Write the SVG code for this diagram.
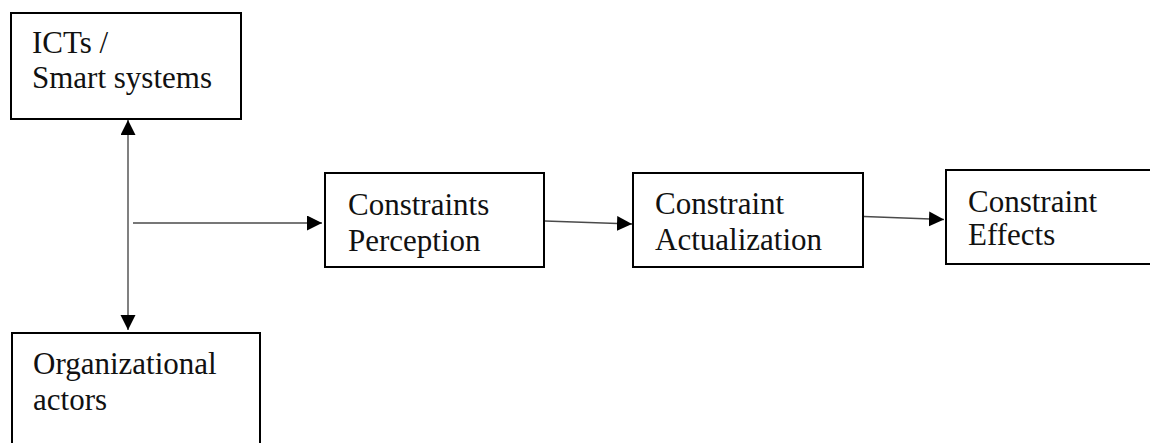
<svg xmlns="http://www.w3.org/2000/svg" width="1150" height="443" viewBox="0 0 1150 443">
  <style>
    .box { fill: #ffffff; stroke: #000000; stroke-width: 2; }
    .label { font-family: "Liberation Serif", "Times New Roman", serif; font-size: 31px; fill: #111111; }
    .link { fill: none; stroke: #4a4a4a; stroke-width: 1.4; }
  </style>
  <defs>
    <marker id="arrow" markerUnits="userSpaceOnUse" markerWidth="16" markerHeight="16" refX="15" refY="7.5" orient="auto-start-reverse" viewBox="0 0 16 16">
      <path d="M0,0 L15,7.5 L0,15 Z" fill="#000000"/>
    </marker>
  </defs>
  <rect width="1150" height="443" fill="#ffffff"/>

  <g id="connectors">
    <line class="link" x1="128" y1="120" x2="128" y2="330" marker-start="url(#arrow)" marker-end="url(#arrow)"/>
    <line class="link" x1="133" y1="223" x2="322" y2="223" marker-end="url(#arrow)"/>
    <line class="link" x1="545" y1="221" x2="632" y2="224" marker-end="url(#arrow)"/>
    <line class="link" x1="864" y1="216.5" x2="944" y2="219.5" marker-end="url(#arrow)"/>
  </g>

  <g id="ict-smart-systems">
    <rect class="box" x="11" y="13" width="230" height="106"/>
    <text class="label" x="32" y="53">ICTs /</text>
    <text class="label" x="32" y="88">Smart systems</text>
  </g>

  <g id="organizational-actors">
    <rect class="box" x="12" y="333" width="248" height="130"/>
    <text class="label" x="33" y="374">Organizational</text>
    <text class="label" x="33" y="410">actors</text>
  </g>

  <g id="constraints-perception">
    <rect class="box" x="325" y="173" width="219" height="94"/>
    <text class="label" x="348" y="215">Constraints</text>
    <text class="label" x="348" y="251">Perception</text>
  </g>

  <g id="constraint-actualization">
    <rect class="box" x="633" y="173" width="230" height="94"/>
    <text class="label" x="655" y="214">Constraint</text>
    <text class="label" x="655" y="250">Actualization</text>
  </g>

  <g id="constraint-effects">
    <rect class="box" x="946" y="170" width="220" height="94"/>
    <text class="label" x="968" y="212">Constraint</text>
    <text class="label" x="968" y="245">Effects</text>
  </g>
</svg>
